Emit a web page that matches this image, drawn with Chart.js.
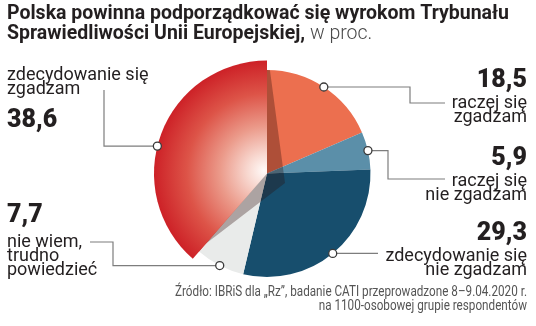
<!DOCTYPE html>
<html>
<head>
<meta charset="utf-8">
<script src="https://cdn.jsdelivr.net/npm/chart.js@4.4.1/dist/chart.umd.min.js"></script>
<style>
  html, body { margin: 0; padding: 0; background: #fff; }
  canvas { display: block; }
</style>
</head>
<body>
<canvas id="pie" width="536" height="326"></canvas>
<script>
const titleBold = ["Polska powinna podporządkować się wyrokom Trybunału", "Sprawiedliwości Unii Europejskiej,"];
const titleUnit = " w proc.";
const categories = [
  ["raczej się", "zgadzam"],
  ["raczej się", "nie zgadzam"],
  ["zdecydowanie się", "nie zgadzam"],
  ["nie wiem,", "trudno", "powiedzieć"],
  ["zdecydowanie się", "zgadzam"]
];
const values = [18.5, 5.9, 29.3, 7.7, 38.6];
const sliceColors = ["#ec6f4f", "#5b8fa9", "#174e6d", "#e9ebea", "#d0252a"];
const sourceLines = ["Źródło: IBRiS dla „Rz”, badanie CATI przeprowadzone 8–9.04.2020 r.", "na 1100-osobowej grupie respondentów"];

// the "zdecydowanie się zgadzam" slice sticks out of the pie
const LIFT = 1.092;
const rad = (d) => d * Math.PI / 180;

// where each callout goes (path = horizontal to x, vertical to y, horizontal to x ...)
const callouts = [
  { align: "right", x: 527, valueY: 87,  textY: 108, path: [410, 103, 445] },
  { align: "right", x: 527, valueY: 165, textY: 186, path: [388, 179, 445] },
  { align: "right", x: 527, valueY: 240, textY: 261, path: [378] },
  { align: "left",  x: 7,   valueY: 222, textY: 247, path: [113, 242, 90] },
  { align: "left",  x: 7,   valueY: 127, textY: 80,  path: [104, 90], nudge: -6.5 }
];

function redFill(chart) {
  const a = chart.chartArea;
  if (!a) return sliceColors[4];
  const cx = (a.left + a.right) / 2, cy = (a.top + a.bottom) / 2;
  const r = Math.min(a.right - a.left, a.bottom - a.top) / 2 * LIFT;
  const g = chart.ctx.createRadialGradient(cx - 3, cy - 3, 0, cx, cy, r);
  g.addColorStop(0, "#fffaf8");
  g.addColorStop(0.15, "#f8d8d0");
  g.addColorStop(0.4, "#eb9a8a");
  g.addColorStop(0.7, "#dd5448");
  g.addColorStop(1, "#cd2127");
  return g;
}

const liftPlugin = {
  id: "lift",
  afterDatasetsDraw(chart) {
    const ctx = chart.ctx;
    const red = chart.getDatasetMeta(0).data[4];
    const { x, y, outerRadius, startAngle, endAngle } = red;
    // shadow under the lifted slice
    ctx.save();
    ctx.beginPath();
    ctx.arc(x, y, outerRadius, 0, Math.PI * 2);
    ctx.clip();
    const sx = x + 18, sy = y + 9.5;
    ctx.beginPath();
    ctx.moveTo(sx, sy);
    ctx.arc(sx, sy, outerRadius * 2, startAngle + rad(11.5), endAngle - rad(7.6));
    ctx.closePath();
    ctx.fillStyle = "rgba(45,12,8,0.32)";
    ctx.fill();
    ctx.restore();
    red.outerRadius = outerRadius * LIFT;
    red.draw(ctx);
    red.outerRadius = outerRadius;
  }
};

const textPlugin = {
  id: "texts",
  afterDraw(chart) {
    const ctx = chart.ctx;
    const arcs = chart.getDatasetMeta(0).data;

    // leader lines + dots
    arcs.forEach((arc, i) => {
      const c = callouts[i];
      const r = i === 4 ? arc.outerRadius * LIFT : arc.outerRadius;
      const mid = (arc.startAngle + arc.endAngle) / 2 + rad(c.nudge || 0);
      const px = arc.x + r * Math.cos(mid);
      const py = arc.y + r * Math.sin(mid);
      ctx.save();
      ctx.strokeStyle = "#7d7d7d";
      ctx.lineWidth = 1.2;
      ctx.beginPath();
      ctx.moveTo(px, py);
      let cx = px, cy = py;
      c.path.forEach((v, k) => {
        if (k % 2 === 0) cx = v; else cy = v;
        ctx.lineTo(cx, cy);
      });
      ctx.stroke();
      ctx.beginPath();
      ctx.arc(px, py, 4, 0, Math.PI * 2);
      ctx.fillStyle = "#fff";
      ctx.fill();
      ctx.strokeStyle = "#3a3a3a";
      ctx.lineWidth = 1.3;
      ctx.stroke();
      ctx.restore();

      ctx.save();
      ctx.fillStyle = "#231f20";
      ctx.textAlign = c.align;
      ctx.textBaseline = "alphabetic";
      ctx.font = "900 25px Roboto";
      ctx.fillText(values[i].toFixed(1).replace(".", ","), c.x, c.valueY);
      ctx.font = "18px Roboto";
      categories[i].forEach((line, k) => ctx.fillText(line, c.x, c.textY + k * 14));
      ctx.restore();
    });

    // title
    ctx.save();
    ctx.fillStyle = "#231f20";
    ctx.textBaseline = "alphabetic";
    ctx.font = "bold 19.5px Roboto";
    const w1 = ctx.measureText(titleBold[0]).width;
    ctx.save();
    ctx.translate(7, 0);
    ctx.scale(Math.min(1, 520 / w1), 1);
    ctx.fillText(titleBold[0], 0, 19);
    ctx.restore();
    const w2 = ctx.measureText(titleBold[1]).width;
    ctx.translate(7, 0);
    ctx.scale(Math.min(1, 311 / w2), 1);
    ctx.fillText(titleBold[1], 0, 39);
    ctx.font = "300 19.5px Roboto";
    ctx.fillStyle = "#4a4a4a";
    ctx.fillText(titleUnit, w2, 39);
    ctx.restore();

    // source
    ctx.save();
    ctx.fillStyle = "#555";
    ctx.font = "14px Roboto";
    const ws = ctx.measureText(sourceLines[0]).width;
    const ss = Math.min(1, 352 / ws);
    ctx.translate(527, 0);
    ctx.scale(ss, 1);
    ctx.textAlign = "right";
    ctx.fillText(sourceLines[0], 0, 296);
    ctx.fillText(sourceLines[1], 0, 310);
    ctx.restore();
  }
};

new Chart(document.getElementById("pie"), {
  type: "pie",
  data: {
    labels: categories,
    datasets: [{
      data: values,
      backgroundColor: (c) => c.dataIndex === 4 ? redFill(c.chart) : sliceColors[c.dataIndex],
      borderWidth: 0,
      clip: false
    }]
  },
  options: {
    responsive: false,
    animation: false,
    layout: { padding: { left: 163.5, right: 165.5, top: 70, bottom: 49 } },
    plugins: {
      legend: { display: false },
      tooltip: { enabled: false }
    }
  },
  plugins: [liftPlugin, textPlugin]
});
</script>
</body>
</html>
